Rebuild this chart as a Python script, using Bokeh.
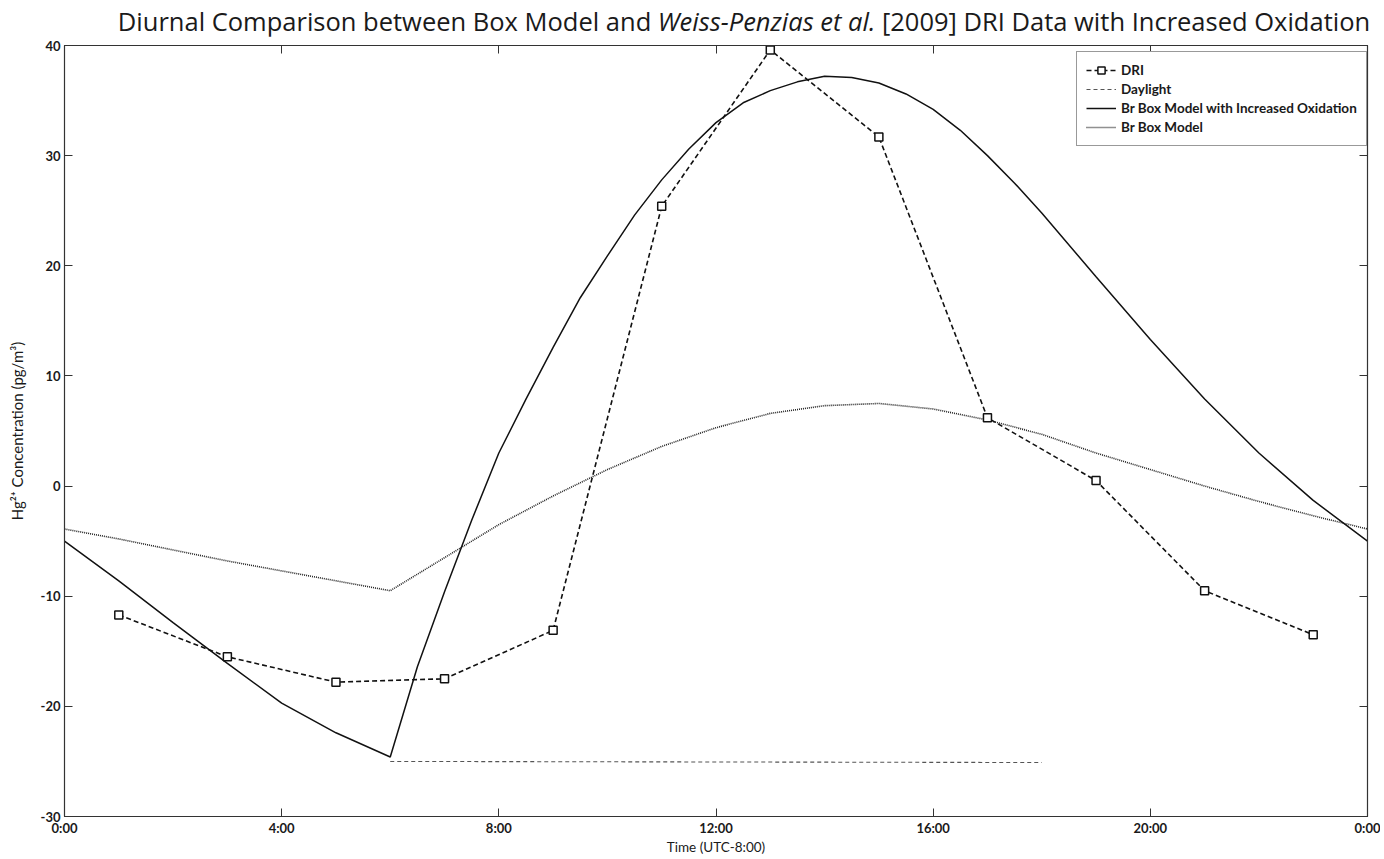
from bokeh.plotting import figure
from bokeh.models import (Range1d, FixedTicker, LinearAxis, Legend, LegendItem, Div,
                          CustomJSTickFormatter)
from bokeh.layouts import column
from bokeh.embed import file_html
from bokeh.resources import INLINE

# ---- data ----
dri_hours = [1, 3, 5, 7, 9, 11, 13, 15, 17, 19, 21, 23]
dri_values = [-11.7, -15.5, -17.8, -17.5, -13.1, 25.4, 39.6, 31.7, 6.2, 0.5, -9.5, -13.5]

daylight_hours = [6, 18]
daylight_values = [-25.0, -25.1]

oxid_hours = [0, 1, 2, 3, 4, 5, 6, 6.5, 7, 7.5, 8, 8.5, 9, 9.5, 10, 10.5, 11, 11.5, 12,
              12.5, 13, 13.5, 14, 14.5, 15, 15.5, 16, 16.5, 17, 17.5, 18, 19, 20, 21, 22,
              23, 24]
oxid_values = [-5.0, -8.6, -12.4, -16.1, -19.7, -22.4, -24.6, -16.4, -9.6, -3.1, 3.0, 7.9,
               12.6, 17.1, 20.9, 24.6, 27.8, 30.6, 33.0, 34.8, 35.9, 36.7, 37.2, 37.1,
               36.6, 35.6, 34.2, 32.3, 30.0, 27.5, 24.8, 19.0, 13.3, 7.9, 3.0, -1.3, -5.0]

box_hours = list(range(0, 25))
box_values = [-3.9, -4.8, -5.8, -6.8, -7.7, -8.6, -9.5, -6.5, -3.5, -0.9, 1.5, 3.6, 5.3,
              6.6, 7.3, 7.5, 7.0, 6.0, 4.7, 3.0, 1.5, 0.0, -1.4, -2.7, -3.9]

x_ticks = [0, 4, 8, 12, 16, 20, 24]
x_tick_labels = ["0:00", "4:00", "8:00", "12:00", "16:00", "20:00", "0:00"]
y_ticks = [-30, -20, -10, 0, 10, 20, 30, 40]
y_tick_labels = ["-30", "-20", "-10", "0", "10", "20", "30", "40"]

FONT = "Lato"
INK = "#1a1a1a"

title = Div(
    text=('Diurnal Comparison between Box Model and <i>Weiss-Penzias et al.</i> '
          '[2009] DRI Data with Increased Oxidation'),
    width=1380, height=36,
    styles={"font-family": "Open Sans", "font-size": "25.5px", "color": INK,
            "text-align": "center", "line-height": "42px", "padding-left": "108px",
            "box-sizing": "border-box", "white-space": "nowrap", "margin": "0",
            "overflow": "visible"},
)

p = figure(width=1380, height=821, output_backend="svg", toolbar_location=None,
           x_range=Range1d(0, 24), y_range=Range1d(-30, 40),
           min_border_left=64, min_border_right=13, min_border_top=9, min_border_bottom=40)
p.background_fill_color = "white"
p.border_fill_color = "white"
p.outline_line_color = "#333333"
p.outline_line_width = 1.2
p.xgrid.visible = False
p.ygrid.visible = False

# axes
for ax in (p.xaxis[0], p.yaxis[0]):
    ax.major_tick_in = 8
    ax.major_tick_out = 0
    ax.minor_tick_line_color = None
    ax.axis_line_color = "#333333"
    ax.major_tick_line_color = "#333333"
    ax.major_label_text_font = FONT
    ax.major_label_text_font_size = "13px"
    ax.major_label_text_font_style = "bold"
    ax.major_label_text_color = INK
    ax.axis_label_text_font = FONT
    ax.axis_label_text_font_style = "normal"
    ax.axis_label_text_color = INK

p.xaxis.ticker = FixedTicker(ticks=x_ticks)
p.xaxis.major_label_overrides = {t: l for t, l in zip(x_ticks, x_tick_labels)}
p.xaxis.axis_label = "Time (UTC-8:00)"
p.xaxis.axis_label_text_font_size = "13.5px"
p.xaxis.major_label_standoff = 3
p.xaxis.axis_label_standoff = 0

p.yaxis.ticker = FixedTicker(ticks=y_ticks)
p.yaxis.major_label_overrides = {t: l for t, l in zip(y_ticks, y_tick_labels)}
p.yaxis.axis_label = "Hg\u00b2\u207a Concentration (pg/m\u00b3)"
p.yaxis.axis_label_text_font_size = "15px"
p.yaxis.major_label_standoff = 4
p.yaxis.axis_label_standoff = 12

blank = CustomJSTickFormatter(code="return ''")
top_ax = LinearAxis(ticker=FixedTicker(ticks=x_ticks), formatter=blank,
                    major_tick_in=8, major_tick_out=0, minor_tick_line_color=None,
                    axis_line_color="#333333", major_tick_line_color="#333333",
                    major_label_standoff=0)
right_ax = LinearAxis(ticker=FixedTicker(ticks=y_ticks), formatter=blank,
                      major_tick_in=8, major_tick_out=0, minor_tick_line_color=None,
                      axis_line_color="#333333", major_tick_line_color="#333333",
                      major_label_standoff=0)
p.add_layout(top_ax, "above")
p.add_layout(right_ax, "right")

# glyphs
r_box = p.line(box_hours, box_values, line_color="#222222", line_width=1.6,
               line_dash="1 1")
r_day = p.line(daylight_hours, daylight_values, line_color="#555555", line_width=1.1,
               line_dash="4 3")
r_ox = p.line(oxid_hours, oxid_values, line_color="#111111", line_width=1.5)
r_dri_l = p.line(dri_hours, dri_values, line_color="#111111", line_width=1.6,
                 line_dash="5 3")
r_dri_m = p.scatter(dri_hours, dri_values, marker="square", size=8, fill_color="white",
                    line_color="#111111", line_width=1.5)

legend = Legend(items=[
    LegendItem(label="DRI", renderers=[r_dri_l, r_dri_m]),
    LegendItem(label="Daylight", renderers=[r_day]),
    LegendItem(label="Br Box Model with Increased Oxidation", renderers=[r_ox]),
    LegendItem(label="Br Box Model", renderers=[r_box]),
], location=(1012, 670))
legend.margin = 0
legend.padding = 9
legend.spacing = 1
legend.glyph_width = 30
legend.glyph_height = 18
legend.label_standoff = 5
legend.label_text_font = FONT
legend.label_text_font_size = "13.5px"
legend.label_text_font_style = "bold"
legend.label_text_color = INK
legend.border_line_color = "#333333"
legend.border_line_width = 1.2
legend.background_fill_color = "white"
legend.background_fill_alpha = 1.0
p.add_layout(legend)

layout = column(title, p, spacing=0)
open("out.html", "w").write(file_html(layout, INLINE))
